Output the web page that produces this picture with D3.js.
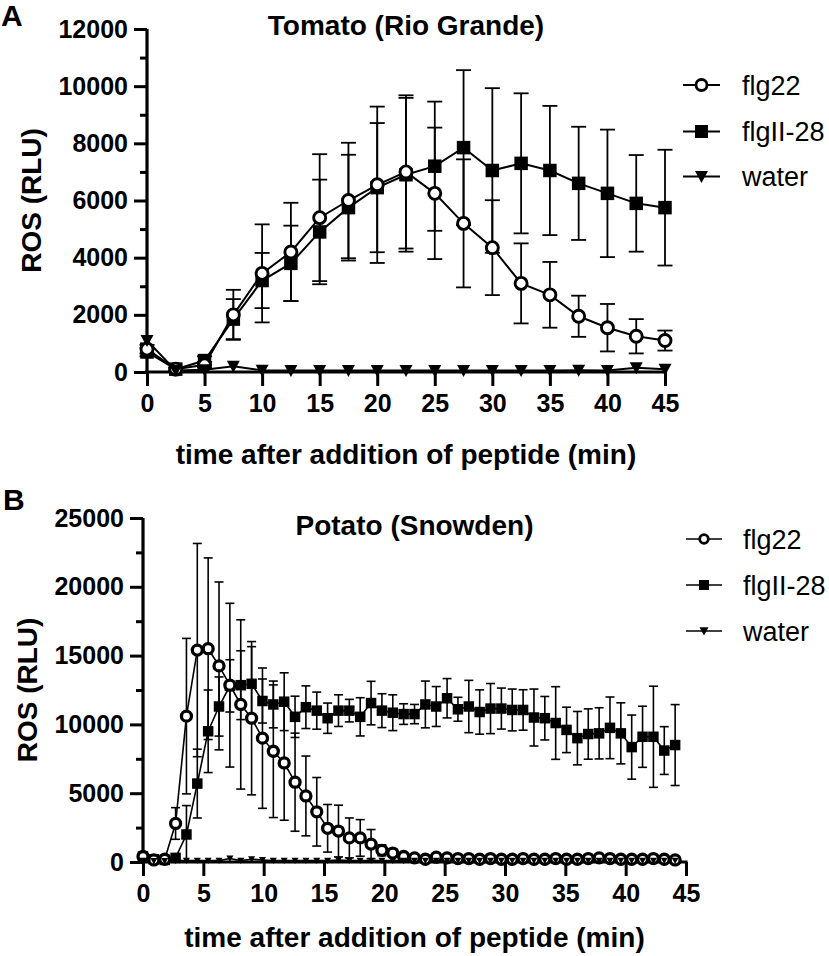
<!DOCTYPE html>
<html><head><meta charset="utf-8">
<script src="https://cdn.jsdelivr.net/npm/d3@7/dist/d3.min.js"></script>
<style>body{margin:0;background:#fff}svg{display:block}text{font-family:"Liberation Sans",Arial,sans-serif}</style>
</head><body>
<script>
// ---------- Data ----------
const seriesNames = ["flg22", "flgII-28", "water"];

// Panel A: Tomato (Rio Grande)
const tomatoTime = [0,2.5,5,7.5,10,12.5,15,17.5,20,22.5,25,27.5,30,32.5,35,37.5,40,42.5,45];
const tomatoFlg22 = [800,100,250,2000,3450,4200,5400,6000,6550,7000,6250,5200,4350,3100,2700,1950,1550,1250,1100];
const tomatoFlg22SD = [150,50,100,875,1715,1720,2220,2020,2735,2680,2300,2240,1660,1400,1150,720,830,600,350];
const tomatoFlgII = [700,100,400,1850,3200,3800,4900,5750,6450,6900,7200,7850,7050,7300,7050,6600,6250,5900,5750];
const tomatoFlgIISD = [150,50,150,700,965,1320,1830,1850,2260,2690,2260,2710,2880,2450,2260,1980,2230,1690,2025];
const tomatoWater = [1100,50,80,200,60,50,50,50,50,50,50,50,50,50,50,60,50,150,100];
const tomatoYTicks = [0,2000,4000,6000,8000,10000,12000];
const tomatoYMinor = [1000,3000,5000,7000,9000,11000];

// Panel B: Potato (Snowden)
const potatoTime = [0,0.9,1.8,2.7,3.6,4.5,5.4,6.3,7.2,8.1,9,9.9,10.8,11.7,12.6,13.5,14.4,15.3,16.2,17.1,18,18.9,19.8,20.7,21.6,22.5,23.4,24.3,25.2,26.1,27,27.9,28.8,29.7,30.6,31.5,32.4,33.3,34.2,35.1,36,36.9,37.8,38.7,39.6,40.5,41.4,42.3,43.2,44.1];
const potatoFlg22 = [400,150,200,2800,10600,15400,15500,14250,12850,11450,10450,9000,8050,7200,5800,4800,3650,2450,2250,1750,1750,1300,850,650,400,300,200,350,300,250,250,200,250,200,200,250,200,200,250,200,200,250,300,250,200,200,200,250,200,150];
const potatoFlg22SD = [0,0,0,1150,5650,7750,6600,6100,5950,6150,5570,5100,4820,4165,3565,2900,2490,1730,1880,1450,1330,1060,400,300,200,100,100,100,100,100,100,100,100,100,100,100,100,100,100,100,100,100,100,100,100,100,100,100,100,100];
const potatoFlgII = [400,200,150,300,2000,5700,9500,11300,12800,12850,12950,11700,11450,11650,10550,11250,11000,10450,11000,11000,10550,11550,11000,10850,10750,10750,11450,11300,11900,11100,11300,10900,11150,11150,11050,11050,10500,10450,10100,9600,9000,9300,9350,9750,9350,8350,9100,9100,8100,8500];
const potatoFlgIISD = [0,0,0,0,2100,2500,3000,2150,1900,2500,2700,1600,1700,2100,1500,1550,1350,1100,1150,820,1390,1580,1230,1300,750,700,1700,1450,1430,870,1900,1610,1820,1490,1520,1470,2070,1580,2640,1650,1940,1830,1860,2240,2220,2330,2220,3675,1735,2940];
const potatoWater = [100,80,80,100,100,100,100,100,250,100,200,150,100,100,100,100,100,100,150,100,100,100,100,100,100,100,100,100,100,100,100,100,100,100,100,100,100,100,100,100,100,100,100,100,100,100,100,100,100,100];
const potatoYTicks = [0,5000,10000,15000,20000,25000];
const potatoYMinor = [2500,7500,12500,17500,22500];

const xTicks = [0,5,10,15,20,25,30,35,40,45];

// ---------- Drawing ----------
const svg = d3.select("body").append("svg").attr("width",829).attr("height",956);

function symbolPath(type, s){
  if(type==="square") return `M${-s/2},${-s/2}h${s}v${s}h${-s}Z`;
  if(type==="tri") return `M${-s/2},${-s*0.42}L${s/2},${-s*0.42}L0,${s*0.5}Z`;
  return null;
}
function drawMarker(g, type, x, y, sz){
  if(type==="circle"){
    g.append("circle").attr("cx",x).attr("cy",y).attr("r",sz.r).attr("fill","#fff").attr("stroke","#000").attr("stroke-width",sz.cw);
  } else {
    g.append("path").attr("d",symbolPath(type, type==="square"?sz.sq:sz.tri)).attr("transform",`translate(${x},${y})`).attr("fill","#000");
  }
}

function panel(cfg){
  const g = svg.append("g");
  const x = d3.scaleLinear().domain([0,45]).range([cfg.left,cfg.right]);
  const y = d3.scaleLinear().domain([0,cfg.ymax]).range([cfg.bottom,cfg.top]);

  // axes
  const yAx = g.append("g").attr("transform",`translate(${cfg.left},0)`)
    .call(d3.axisLeft(y).tickValues(cfg.yTicks).tickSize(13).tickSizeOuter(0).tickPadding(6).tickFormat(d3.format("d")));
  const yMin = g.append("g").attr("transform",`translate(${cfg.left},0)`)
    .call(d3.axisLeft(y).tickValues(cfg.yMinor).tickSize(7).tickSizeOuter(0).tickFormat(""));
  yMin.select(".domain").remove();
  const xAx = g.append("g").attr("transform",`translate(0,${cfg.bottom})`)
    .call(d3.axisBottom(x).tickValues(xTicks).tickSize(14).tickSizeOuter(0).tickPadding(8));
  [yAx,yMin,xAx].forEach(a=>{
    a.selectAll(".domain").attr("stroke","#000").attr("stroke-width",3.2);
    a.selectAll(".tick line").attr("stroke","#000").attr("stroke-width",3);
    a.selectAll(".tick text").attr("fill","#000").attr("font-size",cfg.tickFs).attr("font-weight","bold");
  });
  xAx.select(".domain").attr("d",`M${cfg.left-1.6},0H${cfg.right+1.5}`);
  yAx.select(".domain").attr("d",`M0,${cfg.bottom+1.5}V${cfg.top}`);

  // titles
  g.append("text").attr("x",(cfg.left+cfg.right)/2).attr("y",cfg.titleY).attr("text-anchor","middle")
    .attr("font-size",28).attr("font-weight","bold").text(cfg.title);
  g.append("text").attr("x",cfg.labelX).attr("y",cfg.labelY).attr("font-size",30).attr("font-weight","bold").text(cfg.label);
  g.append("text").attr("x",(cfg.left+cfg.right)/2).attr("y",cfg.xTitleY).attr("text-anchor","middle")
    .attr("font-size",28).attr("font-weight","bold").text("time after addition of peptide (min)");
  g.append("text").attr("transform",`translate(${cfg.yTitleX},${(cfg.top+cfg.bottom)/2}) rotate(-90)`).attr("text-anchor","middle")
    .attr("font-size",28).attr("font-weight","bold").text("ROS (RLU)");

  const series = [
    {vals:cfg.flgII, sd:cfg.flgIISD, type:"square"},
    {vals:cfg.flg22, sd:cfg.flg22SD, type:"circle"},
    {vals:cfg.water, sd:null, type:"tri"}
  ];
  const data = g.append("g");
  // error bars
  series.forEach(s=>{
    if(!s.sd) return;
    cfg.time.forEach((t,i)=>{
      const sd = s.sd[i]; if(!sd) return;
      const v = s.vals[i];
      const y1 = y(v+sd), y0 = y(Math.max(0,v-sd)), xx = x(t);
      data.append("line").attr("x1",xx).attr("x2",xx).attr("y1",y1).attr("y2",y0).attr("stroke","#000").attr("stroke-width",cfg.ebw);
      data.append("line").attr("x1",xx-cfg.cap).attr("x2",xx+cfg.cap).attr("y1",y1).attr("y2",y1).attr("stroke","#000").attr("stroke-width",cfg.ebw);
      if(v-sd>0) data.append("line").attr("x1",xx-cfg.cap).attr("x2",xx+cfg.cap).attr("y1",y0).attr("y2",y0).attr("stroke","#000").attr("stroke-width",cfg.ebw);
    });
  });
  // lines
  const line = d3.line().x(d=>x(d[0])).y(d=>y(d[1]));
  series.forEach(s=>{
    data.append("path").attr("d",line(cfg.time.map((t,i)=>[t,s.vals[i]]))).attr("fill","none").attr("stroke","#000").attr("stroke-width",cfg.lw);
  });
  // markers
  series.forEach(s=>{
    cfg.time.forEach((t,i)=>drawMarker(data, s.type, x(t), y(s.vals[i]), cfg.sz));
  });

  // legend
  const leg = g.append("g");
  const legTypes = ["circle","square","tri"];
  seriesNames.forEach((n,i)=>{
    const ly = cfg.legY[i];
    leg.append("line").attr("x1",cfg.legX0).attr("x2",cfg.legX1).attr("y1",ly).attr("y2",ly).attr("stroke","#000").attr("stroke-width",cfg.lw);
    drawMarker(leg, legTypes[i], (cfg.legX0+cfg.legX1)/2, ly, cfg.legSz);
    leg.append("text").attr("x",cfg.legText).attr("y",ly).attr("dy","0.36em").attr("font-size",27).text(n);
  });
}

panel({
  left:147, right:665, top:29, bottom:372, ymax:12000,
  yTicks:tomatoYTicks, yMinor:tomatoYMinor, tickFs:25,
  title:"Tomato (Rio Grande)", titleY:35, label:"A", labelX:1, labelY:26,
  xTitleY:464, yTitleX:41,
  time:tomatoTime, flg22:tomatoFlg22, flg22SD:tomatoFlg22SD, flgII:tomatoFlgII, flgIISD:tomatoFlgIISD, water:tomatoWater,
  ebw:1.8, cap:7.5, lw:2, sz:{r:6,cw:2.9,sq:13.5,tri:13},
  legY:[85,131.5,176.5], legX0:683, legX1:720, legText:742, legSz:{r:5.5,cw:2.8,sq:13,tri:13}
});

panel({
  left:143, right:686, top:518, bottom:862, ymax:25000,
  yTicks:potatoYTicks, yMinor:potatoYMinor, tickFs:25,
  title:"Potato (Snowden)", titleY:535, label:"B", labelX:3, labelY:510,
  xTitleY:947, yTitleX:37,
  time:potatoTime, flg22:potatoFlg22, flg22SD:potatoFlg22SD, flgII:potatoFlgII, flgIISD:potatoFlgIISD, water:potatoWater,
  ebw:1.6, cap:4.5, lw:1.6, sz:{r:5,cw:3.3,sq:10.5,tri:7},
  legY:[539,585,631], legX0:686, legX1:722, legText:743, legSz:{r:4.3,cw:2.8,sq:10,tri:9}
});
</script>
</body></html>
